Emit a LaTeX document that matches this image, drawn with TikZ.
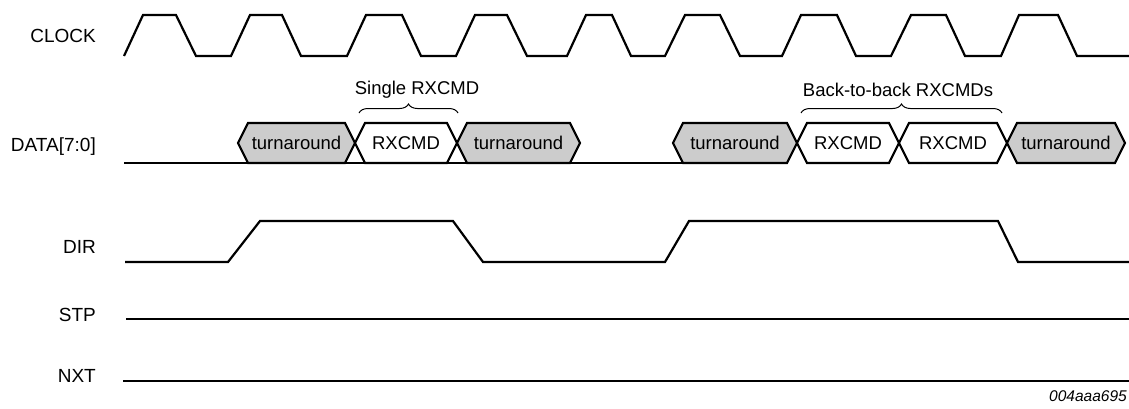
\documentclass[tikz,border=0pt]{standalone}
\usepackage{fontspec}
\setmainfont{Liberation Sans}
\usetikzlibrary{decorations.pathreplacing, calc}
\tikzstyle{siglabel} = [anchor=east, inner sep=0pt, font=\fontsize{19}{22}\selectfont]
\tikzstyle{wave} = [line width=2.2pt, line join=miter, draw=black]
\tikzstyle{busbox} = [line width=2.2pt, line join=miter, draw=black]
\tikzstyle{boxtext} = [inner sep=0pt, font=\fontsize{18.5}{22}\selectfont]
\tikzstyle{bracket} = [decorate, decoration={brace, amplitude=9pt}, line width=1pt]
\tikzstyle{figid} = [anchor=east, inner sep=0pt, font=\fontsize{15.5}{18}\selectfont\itshape]

\begin{document}
\begin{tikzpicture}[x=1pt, y=-1pt]
\useasboundingbox (0,0) rectangle (1129,408);

% signal names
\node (clk) [siglabel] at (96,36) {CLOCK};
\node (data) [siglabel] at (96,147) {DATA[7:0]};
\node (dir) [siglabel] at (96,247) {DIR};
\node (stp) [siglabel] at (96,315) {STP};
\node (nxt) [siglabel] at (96,376) {NXT};

% clock
\draw [wave] (124,56)
  \foreach \r/\h/\f/\l in {124/143/176/196, 231/250/282/301, 347/366/402/421,
    456/475/507/527, 567/586/612/631, 665/685/720/740, 782/801/837/856,
    891/911/946/965, 1001/1019/1058/1077}
  { -- (\r,56) -- (\h,15) -- (\f,15) -- (\l,56) }
  -- (1129,56);

% data bus
\draw [wave] (124,163) -- (683,163);
\foreach \xl/\xr/\col/\txt [count=\i] in {238/355/gray!40/turnaround, 355/457/white/RXCMD,
    457/580/gray!40/turnaround, 673/797/gray!40/turnaround, 797/899/white/RXCMD,
    899/1007/white/RXCMD, 1007/1125/gray!40/turnaround}
{
  \draw [busbox, fill=\col] (\xl,143) -- (\xl+10,123) -- (\xr-10,123) -- (\xr,143)
    -- (\xr-10,163) -- (\xl+10,163) -- cycle;
  \node (box\i) [boxtext] at ({(\xl+\xr)/2},143) {\txt};
}

% braces over the commands
\draw [bracket] (359,113) -- (458,113);
\node (single) [boxtext] at (417,90) {Single RXCMD};
\draw [bracket] (801,113) -- (1002,113);
\node (b2b) [boxtext] at (898,90) {Back-to-back RXCMDs};

% dir, stp, nxt
\draw [wave] (125,262) -- (228,262) -- (260,221) -- (453,221) -- (483,262)
  -- (665,262) -- (689,221) -- (998,221) -- (1018,262) -- (1129,262);
\draw [wave] (126,319) -- (1129,319);
\draw [wave] (123,381) -- (1129,381);

\node (id) [figid] at (1127,396) {004aaa695};
\end{tikzpicture}
\end{document}
